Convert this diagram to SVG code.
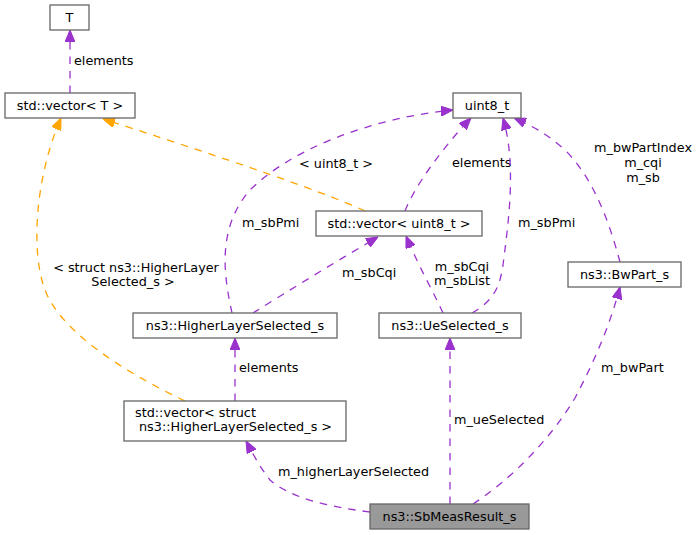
<svg xmlns="http://www.w3.org/2000/svg" width="699" height="535" viewBox="0 0 699 535">
<style>
text{font-family:"DejaVu Sans",sans-serif;font-size:12.8px;fill:#000}
.n rect{fill:#fff;stroke:#666;stroke-width:1.3}
.n.main rect{fill:#999}
.n text{text-anchor:middle}
.e{fill:none;stroke-width:1.3;stroke-dasharray:7.5,7}
.p{stroke:#9a32cd}
.o{stroke:#ffa500}
.lbl{text-anchor:middle}
</style>
<defs>
<marker id="ap" viewBox="0 0 12 10" refX="12" refY="5" markerWidth="12" markerHeight="10" markerUnits="userSpaceOnUse" orient="auto"><path d="M0,0 L12,5 L0,10 z" fill="#9a32cd" stroke="#9a32cd"/></marker>
<marker id="ao" viewBox="0 0 12 10" refX="12" refY="5" markerWidth="12" markerHeight="10" markerUnits="userSpaceOnUse" orient="auto"><path d="M0,0 L12,5 L0,10 z" fill="#ffa500" stroke="#ffa500"/></marker>
</defs>
<g id="connectors">
<path class="e p" d="M70,93 L70,30" marker-end="url(#ap)"/>
<text x="74" y="65">elements</text>
<path class="e o" d="M365,211 C320,190 200,150 103,119" marker-end="url(#ao)"/>
<text class="lbl" x="336" y="168">&lt; uint8_t &gt;</text>
<path class="e o" d="M185,401 C120,370 60,330 45,290 C30,250 36,175 61,118" marker-end="url(#ao)"/>
<text class="lbl" x="136" y="272">&lt; struct ns3::HigherLayer</text>
<text class="lbl" x="133" y="286">Selected_s &gt;</text>
<path class="e p" d="M232,313 C225,280 215,230 250,190 C290,150 370,118 453,110" marker-end="url(#ap)"/>
<text x="242" y="227">m_sbPmi</text>
<path class="e p" d="M253,313 C290,290 335,262 378,237" marker-end="url(#ap)"/>
<text x="342" y="277">m_sbCqi</text>
<path class="e p" d="M405,211 C415,185 445,145 471,118" marker-end="url(#ap)"/>
<text x="452" y="167">elements</text>
<path class="e p" d="M443,313 C435,295 418,265 406,236" marker-end="url(#ap)"/>
<text class="lbl" x="462" y="271">m_sbCqi</text>
<text class="lbl" x="462" y="285">m_sbList</text>
<path class="e p" d="M472,313 C495,300 500,285 503,265 C508,225 517,165 503,118" marker-end="url(#ap)"/>
<text x="518" y="227">m_sbPmi</text>
<path class="e p" d="M620,262 C610,225 595,180 565,150 C548,135 535,127 514,118" marker-end="url(#ap)"/>
<text class="lbl" x="643" y="152">m_bwPartIndex</text>
<text class="lbl" x="643" y="167">m_cqi</text>
<text class="lbl" x="643" y="182">m_sb</text>
<path class="e p" d="M370,512 C330,507 290,498 270,480 C262,470 255,458 246,441" marker-end="url(#ap)"/>
<text x="278" y="476">m_higherLayerSelected</text>
<path class="e p" d="M450,504 L450,338" marker-end="url(#ap)"/>
<text x="454" y="424">m_ueSelected</text>
<path class="e p" d="M473,504 C510,480 550,440 575,398 C595,360 610,325 620,287" marker-end="url(#ap)"/>
<text x="601" y="372">m_bwPart</text>
<path class="e p" d="M235,401 L235,338" marker-end="url(#ap)"/>
<text x="239" y="372">elements</text>
</g>
<g id="node-T" class="n"><rect x="50" y="5" width="39" height="25"/><text x="69.5" y="22">T</text></g>
<g id="node-vectorT" class="n"><rect x="5" y="93" width="130" height="25"/><text x="70" y="110">std::vector&lt; T &gt;</text></g>
<g id="node-uint8" class="n"><rect x="453" y="93" width="68" height="25"/><text x="487" y="110">uint8_t</text></g>
<g id="node-vectorUint8" class="n"><rect x="316" y="211" width="166" height="25"/><text x="399" y="228">std::vector&lt; uint8_t &gt;</text></g>
<g id="node-BwPart" class="n"><rect x="568" y="262" width="113" height="25"/><text x="624.5" y="279">ns3::BwPart_s</text></g>
<g id="node-UeSelected" class="n"><rect x="379" y="313" width="142" height="25"/><text x="450" y="330">ns3::UeSelected_s</text></g>
<g id="node-HLS" class="n"><rect x="133" y="313" width="204" height="25"/><text x="235" y="330">ns3::HigherLayerSelected_s</text></g>
<g id="node-vectorHLS" class="n"><rect x="124" y="401" width="222" height="40"/><text x="135" y="417" style="text-anchor:start">std::vector&lt; struct</text><text x="139" y="431" style="text-anchor:start">ns3::HigherLayerSelected_s &gt;</text></g>
<g id="node-SbMeas" class="n main"><rect x="370" y="504" width="159" height="25"/><text x="449.5" y="521">ns3::SbMeasResult_s</text></g>
</svg>
